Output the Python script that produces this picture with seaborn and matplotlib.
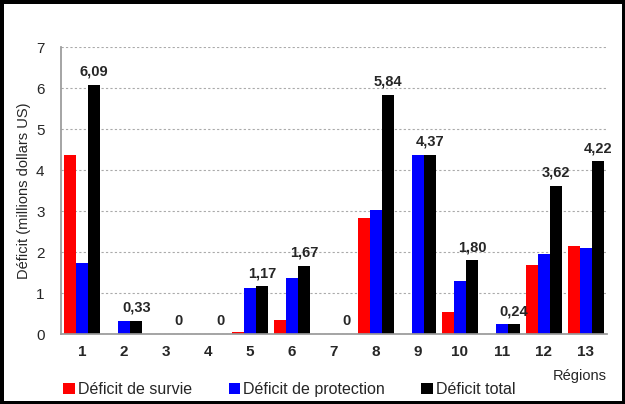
import pandas as pd
import seaborn as sns
import matplotlib.pyplot as plt

regions = ["1", "2", "3", "4", "5", "6", "7", "8", "9", "10", "11", "12", "13"]
deficit_survie = [4.38, 0, 0, 0, 0.06, 0.34, 0, 2.83, 0, 0.53, 0, 1.68, 2.15]
deficit_protection = [1.73, 0.33, 0, 0, 1.12, 1.36, 0, 3.02, 4.37, 1.29, 0.24, 1.95, 2.09]
deficit_total = [6.09, 0.33, 0, 0, 1.17, 1.67, 0, 5.84, 4.37, 1.80, 0.24, 3.62, 4.22]
series_names = ["Déficit de survie", "Déficit de protection", "Déficit total"]
colors = ["#ff0000", "#0000ff", "#000000"]

df = pd.DataFrame({"region": regions, series_names[0]: deficit_survie,
                   series_names[1]: deficit_protection, series_names[2]: deficit_total})
long_df = df.melt(id_vars="region", var_name="serie", value_name="deficit")

sns.set_theme(style="white")
plt.rcParams["font.family"] = ["Liberation Sans", "DejaVu Sans"]

fig = plt.figure(figsize=(6.25, 4.04), dpi=100, linewidth=5, edgecolor="black")
ax = fig.add_axes([0.098, 0.173, 0.873, 0.71])

sns.barplot(data=long_df, x="region", y="deficit", hue="serie", palette=colors,
            width=0.86, saturation=1, linewidth=0, ax=ax, legend=True)

ax.set_ylim(0, 7)
ax.set_yticks(range(8))
ax.yaxis.grid(True, linestyle=(0, (2, 2)), color="#aaaaaa", linewidth=0.8)
ax.set_axisbelow(True)
for side in ["top", "right"]:
    ax.spines[side].set_visible(False)
for side in ["left", "bottom"]:
    ax.spines[side].set_color("#999999")
ax.set_xlim(-0.5, len(regions) - 0.5)

ax.set_xticks([i for i in range(len(regions))])
ax.set_xticklabels(regions, fontweight="bold", fontsize=11)
ax.set_xticks([i - 0.5 for i in range(len(regions) + 1)], minor=True)
ax.tick_params(axis="x", which="major", length=0, pad=8)
ax.tick_params(axis="x", which="minor", length=4, color="#999999", direction="out")
ax.tick_params(axis="y", labelsize=11, length=0, pad=12)

ax.set_ylabel("Déficit (millions dollars US)", fontsize=10.5)
ax.set_xlabel("")
fig.text(0.97, 0.07, "Régions", ha="right", va="center", fontsize=10.5)

# labels above total bars
for i, v in enumerate(deficit_total):
    txt = "0" if v == 0 else f"{v:.2f}".replace(".", ",")
    ax.text(i + 0.287, v + 0.15, txt, ha="center", va="bottom",
            fontsize=10.5, fontweight="bold")

handles, labels = ax.get_legend_handles_labels()
ax.legend_.remove()
fig.legend(handles, labels, loc="center", bbox_to_anchor=(0.463, 0.035), ncol=3,
           frameon=False, fontsize=11.5, handlelength=0.7, handleheight=0.7,
           handletextpad=0.2, columnspacing=2.3)

fig.savefig("out.png", dpi=100)
